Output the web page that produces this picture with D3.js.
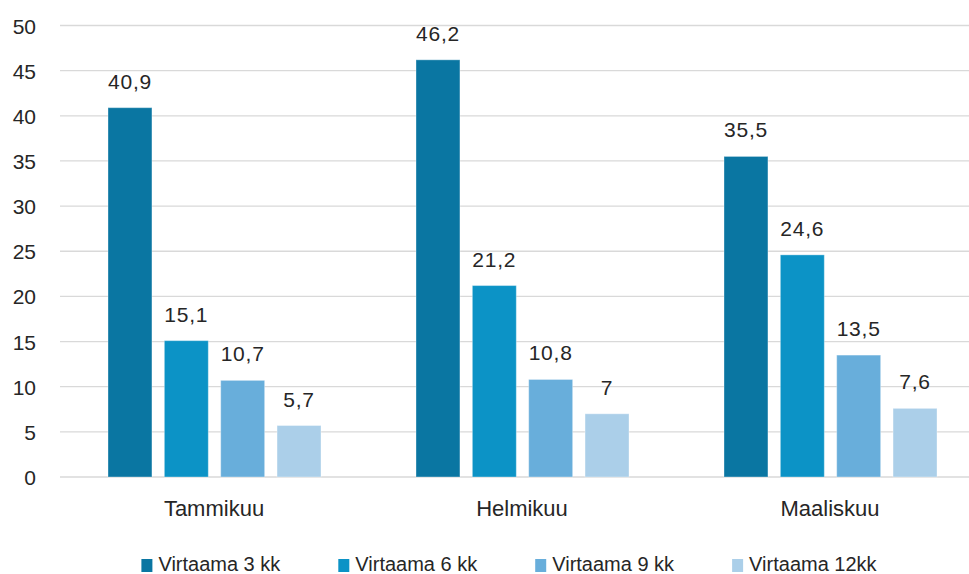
<!DOCTYPE html>
<html><head><meta charset="utf-8">
<script src="https://cdn.jsdelivr.net/npm/d3@7"></script>
<style>body{margin:0;background:#fff}svg{display:block}text{font-family:"Liberation Sans",Arial,sans-serif;fill:#262626}</style>
</head><body><svg id="c" width="969" height="574"></svg>
<script>
const categories = ["Tammikuu", "Helmikuu", "Maaliskuu"];
const seriesNames = ["Virtaama 3 kk", "Virtaama 6 kk", "Virtaama 9 kk", "Virtaama 12kk"];
const v3 = [40.9, 46.2, 35.5];
const v6 = [15.1, 21.2, 24.6];
const v9 = [10.7, 10.8, 13.5];
const v12 = [5.7, 7, 7.6];
const yTicks = [0, 5, 10, 15, 20, 25, 30, 35, 40, 45, 50];
const colors = ["#0a76a2", "#0c93c6", "#68aedb", "#abcfe9"];

const series = [v3, v6, v9, v12];
const svg = d3.select("#c");
const y = d3.scaleLinear().domain([0, 50]).range([477, 25.5]);
const x0 = d3.scaleBand().domain(categories).range([59, 983]).padding(0);
const x1 = d3.scaleBand().domain(d3.range(4)).range([49, 262]).paddingInner(0.22).paddingOuter(0);
const fmt = v => String(v).replace(".", ",");

// gridlines
svg.append("g").selectAll("line").data(yTicks).join("line")
  .attr("x1", 60).attr("x2", 969)
  .attr("y1", d => y(d)).attr("y2", d => y(d))
  .attr("stroke", "#d9d9d9").attr("stroke-width", 1.3);

// y axis labels
const yAxis = d3.axisLeft(y).tickValues(yTicks).tickSize(0).tickPadding(0);
const ga = svg.append("g").attr("transform", "translate(36,0)").call(yAxis);
ga.select(".domain").remove();
ga.selectAll("text").attr("font-size", 21).style("font-family", '"Liberation Sans",Arial,sans-serif').attr("fill", "#262626").attr("dy", "0.36em");

// bars
const groups = svg.append("g").selectAll("g").data(categories).join("g")
  .attr("transform", c => `translate(${x0(c)},0)`);
groups.each(function(c, ci) {
  const g = d3.select(this);
  series.forEach((s, si) => {
    g.append("rect")
      .attr("x", x1(si)).attr("width", x1.bandwidth())
      .attr("y", y(s[ci])).attr("height", y(0) - y(s[ci]))
      .attr("fill", colors[si]).attr("stroke", "#ffffff").attr("stroke-opacity", 0.35).attr("stroke-width", 1);
    g.append("text")
      .attr("x", x1(si) + x1.bandwidth() / 2).attr("y", y(s[ci]) - 19)
      .attr("text-anchor", "middle").attr("font-size", 21).attr("letter-spacing", 0.8)
      .text(fmt(s[ci]));
  });
  g.append("text").attr("x", x0.bandwidth() / 2 + 1).attr("y", 516)
    .attr("text-anchor", "middle").attr("font-size", 22).text(c);
});

// legend
const lg = svg.append("g");
let lx = 0;
seriesNames.forEach((n, i) => {
  const it = lg.append("g").attr("transform", `translate(${lx},0)`);
  it.append("rect").attr("x", 0).attr("y", 559).attr("width", 11).attr("height", 13).attr("fill", colors[i]);
  const t = it.append("text").attr("x", 17).attr("y", 571).attr("font-size", 20).text(n);
  lx += 17 + t.node().getComputedTextLength() + 58;
});
const total = lx - 58;
lg.attr("transform", `translate(${(138 + 880) / 2 - total / 2},0)`);
</script></body></html>
